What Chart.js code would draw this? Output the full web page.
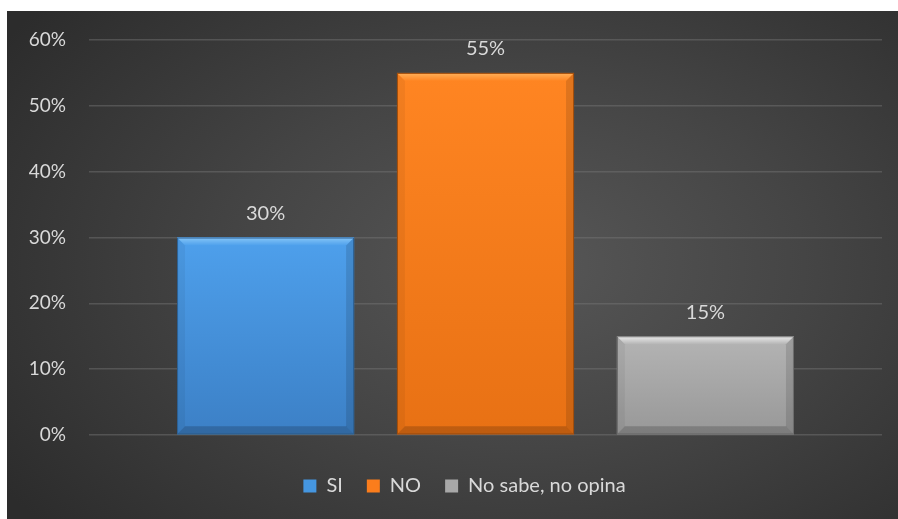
<!DOCTYPE html>
<html>
<head>
<meta charset="utf-8">
<title>Encuesta</title>
<script src="https://cdn.jsdelivr.net/npm/chart.js@4.4.1/dist/chart.umd.min.js"></script>
<style>
    body { margin: 0; background: #ffffff; }
    #wrap {
        position: absolute;
        left: 7px;
        top: 11px;
        width: 891px;
        height: 508px;
        background: radial-gradient(ellipse 70% 80% at 58% 50%, #575757 0%, #454545 45%, #2c2c2c 100%);
    }
</style>
</head>
<body>
<div id="wrap"><canvas id="myChart"></canvas></div>
<script>
// answers and percentages
var seriesNames = ["SI", "NO", "No sabe, no opina"];
var seriesValues = [30, 55, 15];
var yTicks = [0, 10, 20, 30, 40, 50, 60];

// colours per answer: base, top, bottom, highlight, edge
var barColors = [
    { base: "#4596e0", top: "#4ea0ec", bottom: "#3c80c6", light: "#86c6f7", edge: "#2d5f91" },
    { base: "#fb7d1c", top: "#ff8522", bottom: "#e87114", light: "#ffb15a", edge: "#a24e0c" },
    { base: "#a8a8a8", top: "#b4b4b4", bottom: "#989898", light: "#ececec", edge: "#6c6c6c" }
];

var textColor = "#d9d9d9";
var fontFamily = "Lato, 'Open Sans', sans-serif";

// bevelled bars drawn over the plain ones
var bevelBars = {
    id: "bevelBars",
    afterDatasetsDraw: function(chart) {
        var ctx = chart.ctx;
        chart.data.datasets.forEach(function(ds, i) {
            var meta = chart.getDatasetMeta(i);
            var c = barColors[i];
            meta.data.forEach(function(bar) {
                var p = bar.getProps(["x", "y", "base", "width"], true);
                var l = p.x - p.width / 2, r = p.x + p.width / 2;
                var t = p.y, b = p.base;
                var bv = 8;
                ctx.save();

                var g = ctx.createLinearGradient(0, t, 0, b);
                g.addColorStop(0, c.top);
                g.addColorStop(1, c.bottom);
                ctx.fillStyle = g;
                ctx.fillRect(l, t, r - l, b - t);

                // top highlight
                var hg = ctx.createLinearGradient(0, t, 0, t + bv);
                hg.addColorStop(0, c.light);
                hg.addColorStop(1, c.top);
                ctx.fillStyle = hg;
                ctx.beginPath();
                ctx.moveTo(l, t);
                ctx.lineTo(r, t);
                ctx.lineTo(r - bv, t + bv);
                ctx.lineTo(l + bv, t + bv);
                ctx.closePath();
                ctx.fill();

                // sides and bottom in shade
                ctx.fillStyle = "rgba(0,0,0,0.05)";
                ctx.beginPath();
                ctx.moveTo(l, t);
                ctx.lineTo(l + bv, t + bv);
                ctx.lineTo(l + bv, b - bv);
                ctx.lineTo(l, b);
                ctx.closePath();
                ctx.fill();

                ctx.fillStyle = "rgba(0,0,0,0.12)";
                ctx.beginPath();
                ctx.moveTo(r, t);
                ctx.lineTo(r - bv, t + bv);
                ctx.lineTo(r - bv, b - bv);
                ctx.lineTo(r, b);
                ctx.closePath();
                ctx.fill();

                ctx.fillStyle = "rgba(0,0,0,0.18)";
                ctx.beginPath();
                ctx.moveTo(l, b);
                ctx.lineTo(l + bv, b - bv);
                ctx.lineTo(r - bv, b - bv);
                ctx.lineTo(r, b);
                ctx.closePath();
                ctx.fill();

                ctx.strokeStyle = c.edge;
                ctx.lineWidth = 1;
                ctx.strokeRect(l + 0.5, t + 0.5, r - l - 1, b - t - 1);
                ctx.restore();
            });
        });
    }
};

// percentage over each bar
var valueLabels = {
    id: "valueLabels",
    afterDatasetsDraw: function(chart) {
        var ctx = chart.ctx;
        ctx.save();
        ctx.fillStyle = textColor;
        ctx.font = "20px " + fontFamily;
        ctx.textAlign = "center";
        ctx.textBaseline = "middle";
        chart.data.datasets.forEach(function(ds, i) {
            var meta = chart.getDatasetMeta(i);
            meta.data.forEach(function(bar, j) {
                ctx.fillText(ds.data[j] + "%", bar.x, bar.y - 24);
            });
        });
        ctx.restore();
    }
};

// legend sits a bit right of the canvas centre
var legendShift = {
    id: "legendShift",
    afterLayout: function(chart) {
        chart.legend.left += 20;
        chart.legend.right += 20;
    }
};

var datasets = seriesNames.map(function(name, i) {
    return {
        label: name,
        data: [seriesValues[i]],
        backgroundColor: barColors[i].base,
        borderColor: barColors[i].edge,
        borderWidth: 0,
        categoryPercentage: 0.832,
        barPercentage: 0.805
    };
});

var ctx = document.getElementById("myChart");
var myChart = new Chart(ctx, {
    type: "bar",
    data: {
        labels: [""],
        datasets: datasets
    },
    plugins: [bevelBars, valueLabels, legendShift],
    options: {
        responsive: true,
        maintainAspectRatio: false,
        animation: false,
        layout: {
            padding: { top: 29, right: 16, bottom: 13, left: 0 }
        },
        plugins: {
            tooltip: { enabled: false },
            legend: {
                position: "bottom",
                labels: {
                    color: textColor,
                    font: { family: fontFamily, size: 20 },
                    boxWidth: 13,
                    boxHeight: 13,
                    padding: 24
                }
            }
        },
        scales: {
            x: {
                display: true,
                grid: { display: false },
                border: { display: false },
                ticks: { display: false },
                afterFit: function(scale) {
                    scale.height = 17;
                }
            },
            y: {
                min: 0,
                max: 60,
                afterBuildTicks: function(scale) {
                    scale.ticks = yTicks.map(function(v) { return { value: v }; });
                },
                afterFit: function(scale) {
                    scale.width = 82;
                    scale.paddingTop = 0;
                    scale.paddingBottom = 0;
                },
                border: { display: false },
                grid: {
                    color: "rgba(120,120,120,0.45)",
                    lineWidth: 1.5,
                    drawTicks: false
                },
                ticks: {
                    color: textColor,
                    padding: 23,
                    font: { family: fontFamily, size: 19 },
                    callback: function(v) { return v + "%"; }
                }
            }
        }
    }
});
</script>
</body>
</html>
